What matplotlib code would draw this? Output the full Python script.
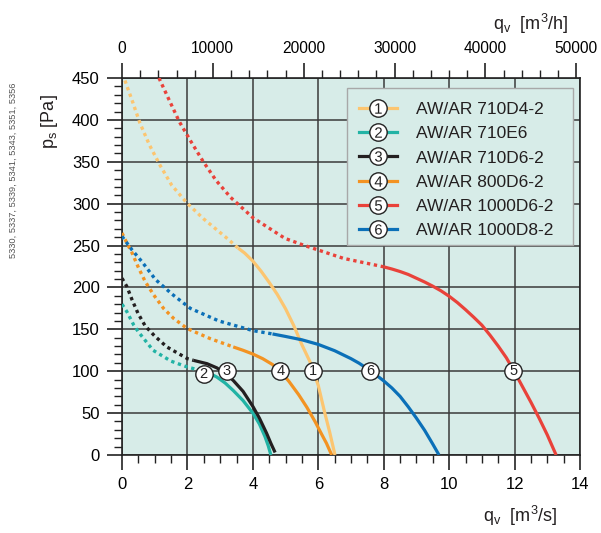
import matplotlib
matplotlib.use("Agg")
import matplotlib.pyplot as plt
from matplotlib.lines import Line2D
from matplotlib.patches import Rectangle
from matplotlib.legend_handler import HandlerTuple
from matplotlib.ticker import MultipleLocator

plt.rcParams['font.family'] = ['Liberation Sans', 'DejaVu Sans']
plt.rcParams['mathtext.fontset'] = 'custom'
plt.rcParams['mathtext.rm'] = 'Liberation Sans'
plt.rcParams['mathtext.it'] = 'Liberation Sans:italic'

# --- data: q_v [m3/s], p_s [Pa]; dotted part + solid part of each curve ---
names = ["AW/AR 710D4-2", "AW/AR 710E6", "AW/AR 710D6-2",
         "AW/AR 800D6-2", "AW/AR 1000D6-2", "AW/AR 1000D8-2"]
colors = ["#fcc570", "#22b3a5", "#231f20", "#f39322", "#e9423a", "#0b70b8"]

q1_dot = [0.09, 0.32, 0.55, 0.84, 1.16, 1.52, 1.98, 2.49, 3.2, 3.55]
p1_dot = [447, 422, 396, 370, 346, 322, 301, 282, 259, 247]
q1_sol = [3.55, 3.75, 4.0, 4.25, 4.5, 4.75, 5.0, 5.25, 5.5, 5.75, 6.0, 6.2, 6.35, 6.51]
p1_sol = [247, 241, 231.5, 219.5, 206, 191.5, 174.5, 154.5, 131.5, 111, 83, 50, 27, 0]

q2_dot = [0.0, 0.15, 0.36, 0.5, 0.95, 1.5, 2.0, 2.39]
p2_dot = [180, 171, 155, 147, 125, 112, 105, 101]
q2_sol = [2.39, 2.7, 2.9, 3.15, 3.4, 3.7, 4.0, 4.2, 4.37, 4.47, 4.55]
p2_sol = [101, 97, 93, 86, 77, 65, 50, 37, 22, 11, 0]

q3_dot = [0.0, 0.15, 0.31, 0.49, 0.71, 1.0, 1.37, 2.0, 2.18]
p3_dot = [211, 201, 185, 169, 154, 142, 129, 115, 113]
q3_sol = [2.18, 2.6, 2.9, 3.2, 3.4, 3.7, 4.0, 4.2, 4.42, 4.55, 4.68]
p3_sol = [113, 109, 104, 96, 89, 76, 58, 44, 26, 14, 3]

q4_dot = [0.0, 0.15, 0.31, 0.51, 0.71, 0.97, 1.27, 1.58, 1.99, 2.69, 3.4]
p4_dot = [265, 253, 241, 223, 207, 191, 175, 163, 151, 139, 129]
q4_sol = [3.4, 3.7, 4.0, 4.3, 4.6, 4.84, 5.1, 5.4, 5.65, 5.9, 6.1, 6.25, 6.41]
p4_sol = [129, 125, 120.5, 115, 108, 100, 88, 72, 57, 40, 25, 14, 0]

q5_dot = [1.13, 1.45, 1.75, 2.11, 2.47, 2.87, 3.32, 4.01, 4.98, 5.54, 6.77, 7.99]
p5_dot = [450, 423, 398, 374, 351, 328, 307.5, 283, 258.6, 250.6, 234.7, 224.7]
q5_sol = [7.99, 8.25, 8.5, 8.75, 9.0, 9.25, 9.5, 9.75, 10.0, 10.25, 10.5, 10.75,
          11.0, 11.25, 11.5, 11.75, 12.0, 12.25, 12.5, 12.75, 13.0, 13.27]
p5_sol = [224.7, 222, 219, 215.5, 211, 206.5, 201.5, 196, 189.5, 182, 173.5, 164.5,
          155, 143, 130, 116, 99, 81, 63, 44, 24, 0]

q6_dot = [0.0, 0.31, 0.61, 1.02, 1.53, 2.09, 2.96, 4.0, 4.6]
p6_dot = [261, 244.6, 230.7, 209.6, 192, 175, 160, 148.5, 144.5]
q6_sol = [4.6, 5.0, 5.5, 6.0, 6.5, 7.0, 7.25, 7.5, 7.75, 8.0, 8.25, 8.5, 8.75,
          9.0, 9.25, 9.5, 9.69]
p6_sol = [144.5, 141.5, 137.5, 132, 124.5, 115, 109.5, 103, 96, 88.5, 80, 70, 57.5,
          44, 29.5, 13, 0]

curves = [
    (q1_dot, p1_dot, q1_sol, p1_sol),
    (q2_dot, p2_dot, q2_sol, p2_sol),
    (q3_dot, p3_dot, q3_sol, p3_sol),
    (q4_dot, p4_dot, q4_sol, p4_sol),
    (q5_dot, p5_dot, q5_sol, p5_sol),
    (q6_dot, p6_dot, q6_sol, p6_sol),
]

# numbered markers on the curves
mark_num = ["1", "2", "3", "4", "5", "6"]
mark_q = [5.85, 2.5, 3.2, 4.84, 11.96, 7.58]
mark_p = [100, 97, 100.5, 100, 100, 100]

BG = "#d7ece8"
GRID = "#3a3a3a"

fig = plt.figure(figsize=(6.01, 5.33), dpi=100)
ax = fig.add_axes([122 / 601, 1 - 455 / 533, 458 / 601, 377 / 533])
ax.set_facecolor(BG)
ax.set_xlim(0, 14)
ax.set_ylim(0, 450)

ax.xaxis.set_major_locator(MultipleLocator(2))
ax.xaxis.set_minor_locator(MultipleLocator(0.5))
ax.yaxis.set_major_locator(MultipleLocator(50))
ax.yaxis.set_minor_locator(MultipleLocator(10))
ax.grid(True, which='major', color=GRID, lw=1.1)
ax.set_axisbelow(True)
ax.tick_params(which='major', length=11, width=1.2, labelsize=12, color='#222', pad=5)
ax.tick_params(which='minor', length=6, width=1.0, color='#222')
for s in ax.spines.values():
    s.set_color('#222')
    s.set_linewidth(1.2)

# top axis in m3/h
top = ax.secondary_xaxis('top', functions=(lambda q: q * 3600, lambda h: h / 3600))
top.xaxis.set_major_locator(MultipleLocator(10000))
top.xaxis.set_minor_locator(MultipleLocator(2000))
top.tick_params(which='major', length=11, width=1.2, labelsize=11.2, color='#222', pad=5)
top.tick_params(which='minor', length=6, width=1.0, color='#222')
top.spines['top'].set_visible(False)

handles = []
for i, (qd, pd, qs, ps) in enumerate(curves):
    c = colors[i]
    ax.plot(qd, pd, color=c, lw=2.4, ls=(0, (1, 1.1)), zorder=3)
    ax.plot(qs, ps, color=c, lw=2.3, solid_capstyle='butt', solid_joinstyle='round', zorder=3)
    ln = Line2D([], [], color=c, lw=2.3)
    circ = Line2D([], [], ls='none', marker='o', ms=12.5, mfc='white', mec='#222', mew=1.0)
    num = Line2D([], [], ls='none', marker=f'$\\mathregular{{{mark_num[i]}}}$', ms=7.5,
                 mfc='#222', mec='none', mew=0)
    handles.append((ln, circ, num))

for n, q, p in zip(mark_num, mark_q, mark_p):
    ax.plot(q, p, ls='none', marker='o', ms=12.5, mfc='white', mec='#222', mew=1.0, zorder=5)
    ax.text(q, p, n, ha='center', va='center', fontsize=10.5, color='#222', zorder=6)

# legend box (drawn in axes fraction), legend entries on top of it
box = Rectangle((0.4913, 0.557), 0.9847 - 0.4913, 0.9735 - 0.557, transform=ax.transAxes,
                facecolor=BG, edgecolor='#a8a8a8', lw=1.0, zorder=4)
ax.add_patch(box)
leg = ax.legend(handles, names, handler_map={tuple: HandlerTuple(ndivide=1)},
                loc='upper left', bbox_to_anchor=((359 - 122) / 458, (455 - 102) / 377),
                fontsize=12.5, frameon=False,
                handlelength=2.2, handletextpad=1.1, labelspacing=0.52,
                borderpad=0, borderaxespad=0)
leg.set_zorder(6)
for t in leg.get_texts():
    t.set_color('#231f20')

# axis titles
fig.text(50 / 601, 1 - 122 / 533, r'$\mathregular{p_s}$ [Pa]', rotation=90,
         ha='center', va='center', fontsize=13, color='#231f20')
fig.text(520 / 601, 1 - 516 / 533, r'$\mathregular{q_v}$  [m$^\mathregular{3}$/s]',
         ha='center', va='center', fontsize=13, color='#231f20')
fig.text(531 / 601, 1 - 24 / 533, r'$\mathregular{q_v}$  [m$^\mathregular{3}$/h]',
         ha='center', va='center', fontsize=13, color='#231f20')
fig.text(13 / 601, 1 - 170 / 533, "5330, 5337, 5339, 5341, 5343, 5351, 5356",
         rotation=90, ha='center', va='center', fontsize=6.7, color='#555555')

fig.savefig("out.png", dpi=100)
